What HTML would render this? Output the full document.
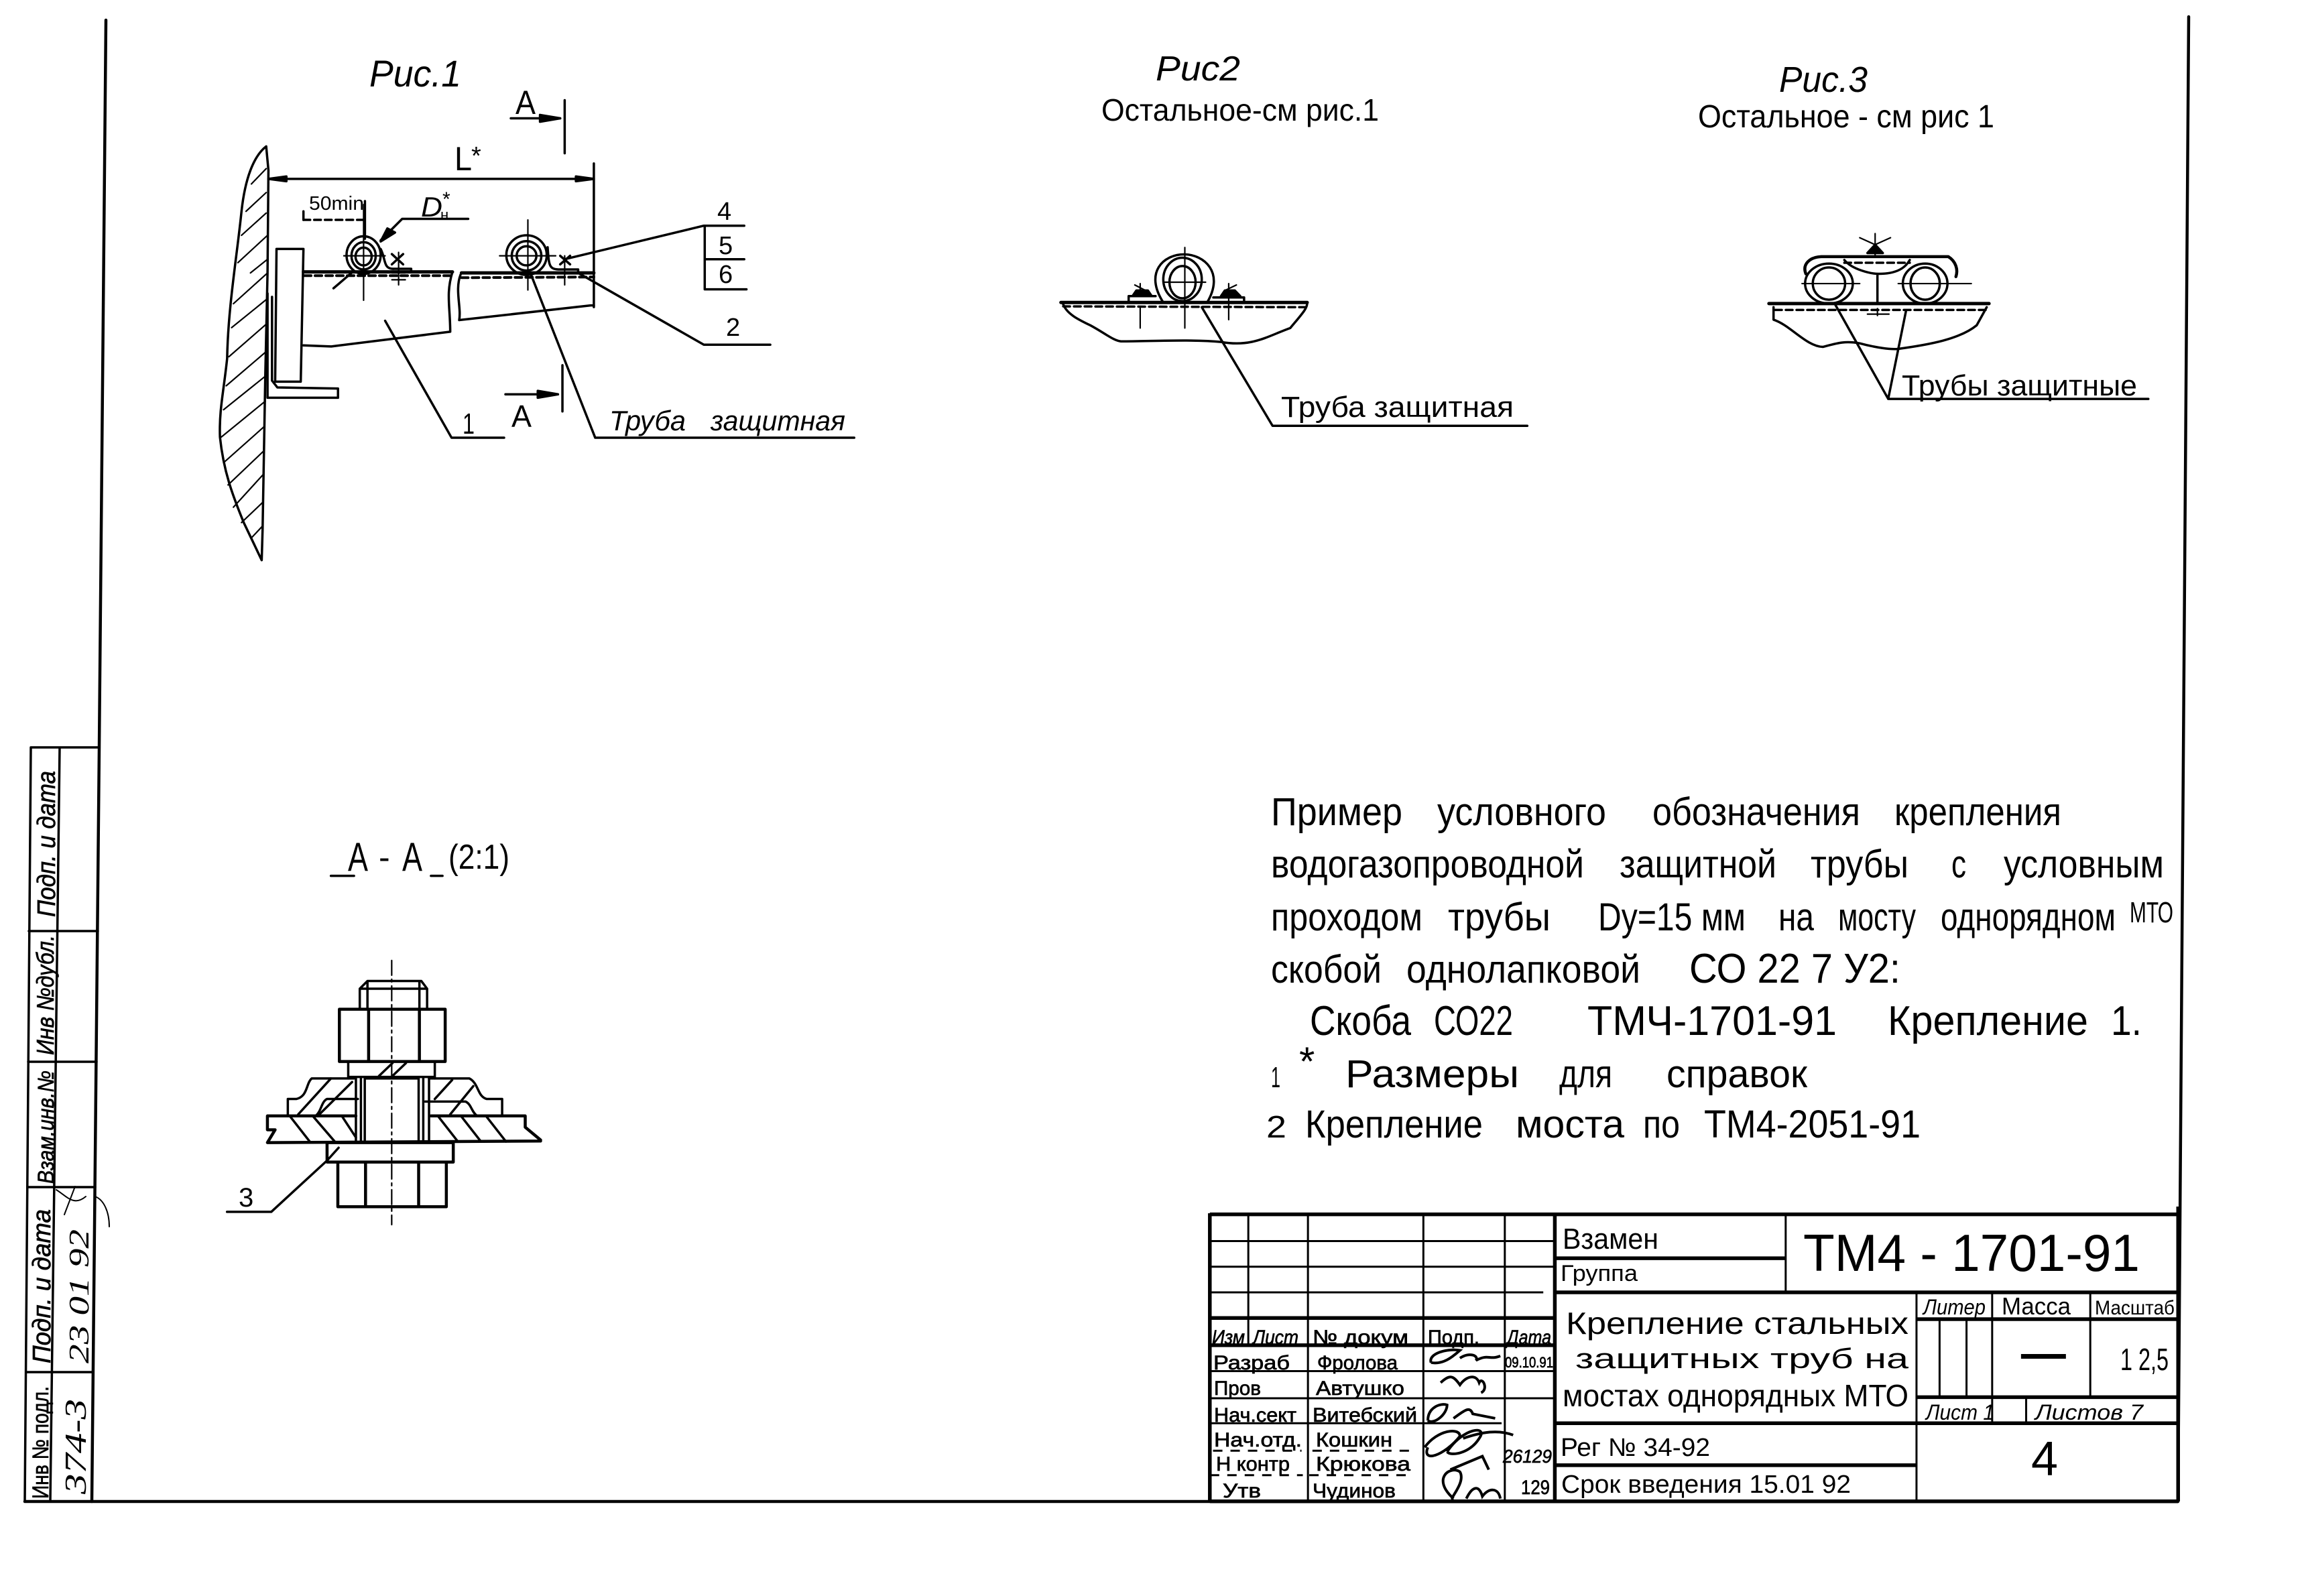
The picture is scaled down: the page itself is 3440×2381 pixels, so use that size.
<!DOCTYPE html>
<html lang="ru"><head><meta charset="utf-8"><title>ТМ4-1701-91</title>
<style>
html,body{margin:0;padding:0;background:#fff}
svg{display:block}
svg *{vector-effect:non-scaling-stroke}
.l *,.l{fill:none;stroke:#000;stroke-width:3.5;stroke-linecap:round;stroke-linejoin:round}
.t *{fill:none;stroke:#000;stroke-width:5.5}
.m *{fill:none;stroke:#000;stroke-width:3}
.n *{fill:none;stroke:#000;stroke-width:2.2}
.d{stroke-dasharray:10 6}
text{font-family:"Liberation Sans","DejaVu Sans",sans-serif;fill:#000;stroke:none}
.s{font-family:"Liberation Serif","DejaVu Serif",serif;font-style:italic}
.i{font-style:italic}
.f{fill:#000!important}
.b text{stroke:#000;stroke-width:.7}
</style></head><body>
<svg xmlns="http://www.w3.org/2000/svg" width="3440" height="2381" viewBox="0 0 3440 2381">
<rect width="3440" height="2381" fill="#fff"/>

<!-- frame -->
<g class="l" style="stroke-width:4">
<path d="M158,30L148,1115L137,2240" style="stroke-width:4.5"/>
<path d="M3265,25L3249,2238" style="stroke-width:4.5"/>
<path d="M37,2240L3249,2240" style="stroke-width:4.5"/>
<path d="M46,1115L37,2240M89,1115L75,2240M46,1115L148,1115M43,1389L146,1389M42,1584L144,1584M41,1771L142,1771M39,2047L139,2047"/>
<path d="M142,1785C155,1790 163,1808 163,1830M84,1775C100,1785 110,1800 128,1785M112,1770L96,1812" style="stroke-width:2"/>
</g>
<g class="b">
<text transform="translate(82,1368) rotate(-90)" font-size="38" textLength="218" lengthAdjust="spacingAndGlyphs" class="i">Подп. и дата</text>
<text transform="translate(80,1574) rotate(-90)" font-size="36" textLength="179" lengthAdjust="spacingAndGlyphs" class="i">Инв №дубл.</text>
<text transform="translate(80,1766) rotate(-90)" font-size="34" textLength="169" lengthAdjust="spacingAndGlyphs" class="i">Взам.инв.№</text>
<text transform="translate(75,2034) rotate(-90)" font-size="38" textLength="230" lengthAdjust="spacingAndGlyphs" class="i">Подп. и дата</text>
<text transform="translate(72,2236) rotate(-90)" font-size="34" textLength="168" lengthAdjust="spacingAndGlyphs">Инв № подл.</text>
</g>
<text transform="translate(132,2034) rotate(-90)" font-size="42" textLength="200" lengthAdjust="spacingAndGlyphs" class="s">23 01 92</text>
<text transform="translate(128,2229) rotate(-90)" font-size="46" textLength="142" lengthAdjust="spacingAndGlyphs" class="s">374-3</text>

<!-- Figure 1 -->
<g class="l" transform="matrix(.6696,0,0,.5102,300,50)">
<path d="M145,330C125,350 100,400 90,520C80,650 60,800 58,950C50,1050 40,1100 42,1180C50,1280 70,1350 95,1430L135,1540L137,1450L143,1000L148,700L150,400Z"/>
<g class="n"><path d="M145,395L112,440M145,465L100,520M145,525L90,590M148,590L82,670M148,660L110,700M148,700L72,790M148,775L68,860M145,850L62,945M145,930L56,1030M145,1000L50,1100M143,1075L45,1180M140,1150L50,1255M140,1220L60,1320M138,1290L72,1385M138,1370L90,1430M137,1440L112,1475"/></g>
<path d="M168,630L228,630L222,1018L165,1018Z"/>
<path d="M148,760L148,1065L305,1065L305,1038L170,1035L158,1015L158,770"/>
<path d="M150,425L875,425M875,380L875,800M810,195L810,350M690,248L800,248M805,970L805,1105M678,1055L795,1055"/>
<path class="f" d="M150,425L190,418L190,432ZM875,425L835,418L835,432ZM800,248L755,238L755,258ZM795,1055L750,1045L750,1065Z"/>
<path d="M228,697L560,697M580,700L875,700" style="stroke-width:5"/>
<path class="d" d="M230,708L560,708M580,714L875,712" style="stroke-width:4"/>
<path d="M228,912L290,915L555,872C555,800 545,760 560,697" />
<path d="M578,705C565,750 580,800 575,838L868,795L875,795"/>
<ellipse cx="362" cy="648" rx="38" ry="55"/><ellipse cx="362" cy="650" rx="27" ry="40"/><ellipse cx="362" cy="652" rx="18" ry="26"/>
<path d="M400,630C412,660 405,690 430,688L468,688L468,697"/>
<ellipse cx="725" cy="648" rx="45" ry="58"/><ellipse cx="725" cy="650" rx="33" ry="43"/><ellipse cx="725" cy="650" rx="22" ry="28"/>
<path d="M772,625C775,680 775,690 800,690L840,690L840,700"/>
<g class="n"><path d="M362,500L362,780M318,650L410,650M728,545L728,750M665,650L790,650M440,640L440,735M810,650L810,735M425,700L455,700M795,700L825,700M425,720L455,720"/></g>
<path d="M228,520L228,545M365,490L365,600"/><path class="d" d="M228,545L362,545"/>
<path d="M595,542L448,542L400,605"/>
<path class="f" d="M400,608L415,570L432,582Z"/>
<path d="M425,645L450,675M450,645L425,675M800,650L822,675M822,650L800,675M335,700L295,745"/>
<path d="M410,840L558,1182L675,1182M735,705L878,1182L1455,1182M810,660L1120,562L1210,562M1122,562L1122,748M1122,660L1210,660M1122,748L1215,748M840,700L1120,910L1268,910"/>
</g>
<text x="551" y="129" font-size="56" textLength="137" lengthAdjust="spacingAndGlyphs" class="i">Рис.1</text>
<text x="769" y="170" font-size="50" textLength="30" lengthAdjust="spacingAndGlyphs">А</text>
<text x="678" y="254" font-size="50" textLength="26" lengthAdjust="spacingAndGlyphs">L</text>
<text x="703" y="245" font-size="38">*</text>
<text x="461" y="313" font-size="29" textLength="82" lengthAdjust="spacingAndGlyphs">50min</text>
<text x="628" y="323" font-size="42" textLength="32" lengthAdjust="spacingAndGlyphs" class="i">D</text>
<text x="657" y="328" font-size="22">н</text>
<text x="660" y="307" font-size="30">*</text>
<text x="1070" y="328" font-size="38">4</text>
<text x="1072" y="379" font-size="38">5</text>
<text x="1072" y="422" font-size="38">6</text>
<text x="1083" y="501" font-size="38">2</text>
<text x="690" y="647" font-size="44" textLength="18" lengthAdjust="spacingAndGlyphs">1</text>
<text x="763" y="637" font-size="46" textLength="30" lengthAdjust="spacingAndGlyphs">А</text>
<text x="909" y="642" font-size="42" textLength="114" lengthAdjust="spacingAndGlyphs" class="i">Труба</text>
<text x="1060" y="642" font-size="42" textLength="201" lengthAdjust="spacingAndGlyphs" class="i">защитная</text>

<!-- Figures 2 and 3 -->
<g class="l" transform="matrix(1.148,0,0,.4145,1500,50)">
<path d="M72,968L392,968" style="stroke-width:5"/>
<path class="d" d="M75,982L390,985"/>
<path d="M75,975C80,1010 95,1030 110,1050C130,1080 140,1105 150,1108C190,1108 240,1100 280,1110C320,1130 340,1090 370,1060C385,1010 392,990 392,970"/>
<path d="M205,968C180,860 205,795 232,795C258,795 285,860 262,968"/>
<ellipse cx="230" cy="885" rx="25" ry="78"/><ellipse cx="230" cy="895" rx="17" ry="58"/>
<path d="M160,965L160,945L195,945M310,968L310,950L270,950"/>
<path class="f" d="M165,945L190,945L185,925L170,925ZM280,945L305,945L298,925L285,925Z"/>
<g class="n"><path d="M233,770L233,1060M205,895L260,895M175,985L175,1060M290,930L290,1030M175,900L175,925M290,900L290,925M168,905L182,925M300,905L285,925"/></g>
<path d="M255,985L347,1412L678,1412"/>

<path d="M992,972L1278,972" style="stroke-width:5"/>
<path class="d" d="M1000,995L1275,995"/>
<path d="M998,985L998,1030C1020,1050 1040,1125 1062,1128C1080,1115 1090,1105 1110,1115C1130,1130 1150,1138 1160,1135C1200,1120 1240,1100 1262,1050L1275,985"/>
<ellipse cx="1070" cy="900" rx="31" ry="72"/><ellipse cx="1070" cy="900" rx="21" ry="58"/>
<ellipse cx="1195" cy="900" rx="29" ry="72"/><ellipse cx="1195" cy="900" rx="19" ry="58"/>
<path d="M1040,865C1035,830 1045,805 1060,803L1225,803C1235,820 1238,850 1235,875" style="stroke-width:4.5"/>
<path class="d" d="M1090,825L1175,825"/>
<path d="M1090,815C1100,850 1125,865 1135,865C1160,865 1170,840 1175,815M1133,865L1133,972"/>
<g class="n"><path d="M1035,900L1110,900M1160,900L1255,900M1130,720L1130,800M1110,735L1130,760L1150,735M1133,990L1133,1015M1120,1010L1148,1010"/></g>
<path class="f" d="M1120,790L1140,790L1130,760Z"/>
<path d="M1078,975L1147,1315L1485,1315M1170,1000L1147,1315"/>
</g>
<text x="1724" y="120" font-size="52" textLength="126" lengthAdjust="spacingAndGlyphs" class="i">Рис2</text>
<text x="1643" y="180" font-size="46" textLength="414" lengthAdjust="spacingAndGlyphs">Остальное-см рис.1</text>
<text x="2654" y="137" font-size="54" textLength="132" lengthAdjust="spacingAndGlyphs" class="i">Рис.3</text>
<text x="2533" y="190" font-size="48" textLength="442" lengthAdjust="spacingAndGlyphs">Остальное - см рис 1</text>
<text x="1911" y="622" font-size="44" textLength="347" lengthAdjust="spacingAndGlyphs">Труба защитная</text>
<text x="2837" y="590" font-size="44" textLength="351" lengthAdjust="spacingAndGlyphs">Трубы защитные</text>

<!-- Section A-A -->
<g class="l" transform="matrix(.574,0,0,.7653,0,1100)">
<path class="n" d="M1018,435L1018,950" style="stroke-width:2.2;stroke-dasharray:22 6 4 6"/>
<path d="M935,530L935,490L955,475L1095,475L1110,490L1110,530ZM955,475L955,530M1090,475L1090,530M935,490L1110,490"/>
<path d="M882,530H1157V632H882ZM958,530V632M1090,530V632" style="stroke-width:4.5"/>
<path d="M905,632L905,665M1130,632L1130,665M905,662L1130,662M985,660L1020,635M1020,660L1055,635"/>
<path d="M948,665H1088V790H948ZM925,665V790M938,665V790M1100,665V790M1115,665V790"/>
<path d="M920,665L810,665C795,675 800,700 770,705L748,705L748,738M930,705L850,705C835,710 835,730 820,738M1115,665L1220,665C1245,675 1240,700 1265,705L1305,705L1305,738M1105,710L1210,710C1225,715 1225,730 1240,738"/>
<path d="M695,738L925,738M1120,738L1365,738M695,790L1405,787M695,738L695,765L715,765L695,790M1365,738L1365,760L1405,785" style="stroke-width:4.5"/>
<path d="M755,740L805,788M815,740L870,788M890,740L925,780M1140,740L1190,788M1200,740L1250,788M1265,740L1315,788M775,735L860,665M830,735L915,672M1130,705L1175,668M1170,735L1230,680"/>
<path d="M850,790H1178V828H850ZM878,828H1160V915H878ZM950,828V915M1088,828V915" style="stroke-width:4.5"/>
<path d="M880,800L850,825L705,925L590,925M860,270L920,270M1120,270L1150,270"/>
</g>
<text x="519" y="1299" font-size="60" textLength="30" lengthAdjust="spacingAndGlyphs">А</text>
<text x="565" y="1296" font-size="50">-</text>
<text x="600" y="1299" font-size="60" textLength="30" lengthAdjust="spacingAndGlyphs">А</text>
<text x="669" y="1296" font-size="52" textLength="91" lengthAdjust="spacingAndGlyphs">(2:1)</text>
<text x="356" y="1800" font-size="40">3</text>

<!-- Notes -->
<g font-size="58">
<text x="1896" y="1231" textLength="196" lengthAdjust="spacingAndGlyphs">Пример</text>
<text x="2144" y="1231" textLength="252" lengthAdjust="spacingAndGlyphs">условного</text>
<text x="2465" y="1231" textLength="310" lengthAdjust="spacingAndGlyphs">обозначения</text>
<text x="2826" y="1231" textLength="249" lengthAdjust="spacingAndGlyphs">крепления</text>
<text x="1896" y="1309" textLength="467" lengthAdjust="spacingAndGlyphs">водогазопроводной</text>
<text x="2416" y="1309" textLength="234" lengthAdjust="spacingAndGlyphs">защитной</text>
<text x="2701" y="1309" textLength="146" lengthAdjust="spacingAndGlyphs">трубы</text>
<text x="2911" y="1309" textLength="22" lengthAdjust="spacingAndGlyphs">с</text>
<text x="2989" y="1309" textLength="239" lengthAdjust="spacingAndGlyphs">условным</text>
<text x="1896" y="1388" textLength="226" lengthAdjust="spacingAndGlyphs">проходом</text>
<text x="2160" y="1388" textLength="153" lengthAdjust="spacingAndGlyphs">трубы</text>
<text x="2384" y="1388" textLength="220" lengthAdjust="spacingAndGlyphs">Dу=15 мм</text>
<text x="2653" y="1388" textLength="53" lengthAdjust="spacingAndGlyphs">на</text>
<text x="2742" y="1388" textLength="116" lengthAdjust="spacingAndGlyphs">мосту</text>
<text x="2895" y="1388" textLength="261" lengthAdjust="spacingAndGlyphs">однорядном</text>
<text x="3177" y="1376" font-size="44" textLength="65" lengthAdjust="spacingAndGlyphs">МТО</text>
<text x="1896" y="1466" textLength="165" lengthAdjust="spacingAndGlyphs">скобой</text>
<text x="2098" y="1466" textLength="349" lengthAdjust="spacingAndGlyphs">однолапковой</text>
<text x="2520" y="1466" font-size="62" textLength="315" lengthAdjust="spacingAndGlyphs">СО 22 7 У2:</text>
<text x="1954" y="1544" font-size="62" textLength="151" lengthAdjust="spacingAndGlyphs">Скоба</text>
<text x="2139" y="1544" font-size="62" textLength="118" lengthAdjust="spacingAndGlyphs">СО22</text>
<text x="2368" y="1544" font-size="62" textLength="372" lengthAdjust="spacingAndGlyphs">ТМЧ-1701-91</text>
<text x="2816" y="1544" font-size="62" textLength="299" lengthAdjust="spacingAndGlyphs">Крепление</text>
<text x="3149" y="1544" font-size="62" textLength="46" lengthAdjust="spacingAndGlyphs">1.</text>
<text x="1896" y="1622" font-size="44" textLength="14" lengthAdjust="spacingAndGlyphs">1</text>
<text x="1938" y="1604" font-size="60">*</text>
<text x="2007" y="1622" textLength="259" lengthAdjust="spacingAndGlyphs">Размеры</text>
<text x="2326" y="1622" textLength="79" lengthAdjust="spacingAndGlyphs">для</text>
<text x="2486" y="1622" textLength="210" lengthAdjust="spacingAndGlyphs">справок</text>
<text x="1889" y="1697" font-size="46" textLength="30" lengthAdjust="spacingAndGlyphs">2</text>
<text x="1947" y="1697" textLength="265" lengthAdjust="spacingAndGlyphs">Крепление</text>
<text x="2261" y="1697" textLength="162" lengthAdjust="spacingAndGlyphs">моста</text>
<text x="2451" y="1697" textLength="55" lengthAdjust="spacingAndGlyphs">по</text>
<text x="2542" y="1697" textLength="323" lengthAdjust="spacingAndGlyphs">ТМ4-2051-91</text>
</g>

<!-- Title block lines -->
<g transform="matrix(.9566,0,0,.3326,1800,1800)">
<g class="t"><path d="M5,35H1515M5,30V1322M5,1322H1515M1515,0V1322M5,500H543M5,622H543M543,35V1322M543,385H1515M543,972H1515M1107,505H1515M1107,855H1515M543,232H903M543,1160H1107"/></g>
<g class="m"><path d="M65,35V620M158,35V1315M338,35V1315M465,35V1315M5,155H543M5,270H543M5,385H525M5,738H543M5,860H543M5,972H460M903,35V380M1107,385V1322M1225,385V855M1378,385V855M1143,505V855M1185,505V855M1225,855V972M1278,855V972"/>
<path d="M5,1205H150M160,1205H320M10,1095H148M165,1095H325" stroke-dasharray="14 12"/>
<path d="M1270,672H1340" style="stroke-width:7"/>
<!-- signatures -->
<path d="M350,700C345,660 375,635 395,645C385,670 370,710 350,700M395,680C410,650 425,670 420,690C440,660 440,690 458,670M365,790C380,750 385,760 395,800C405,760 420,750 425,790C430,760 440,820 428,835M345,960C345,900 365,880 375,890C375,930 355,980 345,960M385,950C400,920 410,890 415,930L450,950M340,1080C360,1000 395,990 395,1030C370,1120 335,1150 345,1080M375,1100C400,990 440,980 425,1040C410,1110 380,1120 375,1100M400,1040C430,1010 455,1000 478,1025M380,1180L430,1120L440,1180M385,1310C350,1220 380,1160 395,1190C405,1240 375,1320 385,1310M405,1310C415,1250 425,1250 430,1300C440,1260 455,1260 458,1310" style="stroke-width:4"/></g>
</g>

<!-- Title block text -->
<g>
<text x="2331" y="1863" font-size="44" textLength="143" lengthAdjust="spacingAndGlyphs">Взамен</text>
<text x="2328" y="1911" font-size="34" textLength="115" lengthAdjust="spacingAndGlyphs">Группа</text>
<text x="2690" y="1896" font-size="78" textLength="502" lengthAdjust="spacingAndGlyphs">ТМ4 - 1701-91</text>
<text x="2336" y="1990" font-size="46" textLength="511" lengthAdjust="spacingAndGlyphs">Крепление стальных</text>
<text x="2350" y="2041" font-size="42" textLength="497" lengthAdjust="spacingAndGlyphs">защитных  труб на</text>
<text x="2331" y="2098" font-size="46" textLength="516" lengthAdjust="spacingAndGlyphs">мостах однорядных МТО</text>
<text x="2869" y="1961" font-size="32" textLength="93" lengthAdjust="spacingAndGlyphs" class="i">Литер</text>
<text x="2986" y="1961" font-size="36" textLength="103" lengthAdjust="spacingAndGlyphs">Масса</text>
<text x="3125" y="1961" font-size="30" textLength="119" lengthAdjust="spacingAndGlyphs">Масштаб</text>
<text x="3163" y="2044" font-size="46" textLength="72" lengthAdjust="spacingAndGlyphs">1 2,5</text>
<text x="2873" y="2118" font-size="32" textLength="102" lengthAdjust="spacingAndGlyphs" class="i">Лист 1</text>
<text x="3036" y="2118" font-size="32" textLength="161" lengthAdjust="spacingAndGlyphs" class="i">Листов  7</text>
<text x="3030" y="2201" font-size="72" textLength="40" lengthAdjust="spacingAndGlyphs">4</text>
<text x="2328" y="2172" font-size="38" textLength="223" lengthAdjust="spacingAndGlyphs">Рег № 34-92</text>
<text x="2329" y="2227" font-size="38" textLength="432" lengthAdjust="spacingAndGlyphs">Срок введения 15.01 92</text>
<g font-size="30" class="b">
<text x="1808" y="2005" textLength="49" lengthAdjust="spacingAndGlyphs" class="i">Изм</text>
<text x="1869" y="2005" textLength="68" lengthAdjust="spacingAndGlyphs" class="i">Лист</text>
<text x="1958" y="2005" textLength="143" lengthAdjust="spacingAndGlyphs">№ докум</text>
<text x="2130" y="2005" textLength="77" lengthAdjust="spacingAndGlyphs">Подп.</text>
<text x="2248" y="2005" textLength="66" lengthAdjust="spacingAndGlyphs" class="i">Дата</text>
<text x="1810" y="2043" textLength="114" lengthAdjust="spacingAndGlyphs">Разраб</text>
<text x="1965" y="2043" textLength="120" lengthAdjust="spacingAndGlyphs">Фролова</text>
<text x="2245" y="2040" font-size="22" textLength="72" lengthAdjust="spacingAndGlyphs">09.10.91</text>
<text x="1811" y="2081" textLength="70" lengthAdjust="spacingAndGlyphs">Пров</text>
<text x="1963" y="2081" textLength="132" lengthAdjust="spacingAndGlyphs">Автушко</text>
<text x="1811" y="2121" textLength="123" lengthAdjust="spacingAndGlyphs">Нач.сект</text>
<text x="1958" y="2121" textLength="156" lengthAdjust="spacingAndGlyphs">Витебский</text>
<text x="1811" y="2158" textLength="131" lengthAdjust="spacingAndGlyphs">Нач.отд.</text>
<text x="1963" y="2158" textLength="114" lengthAdjust="spacingAndGlyphs">Кошкин</text>
<text x="1814" y="2194" textLength="110" lengthAdjust="spacingAndGlyphs">Н контр</text>
<text x="1963" y="2194" textLength="141" lengthAdjust="spacingAndGlyphs">Крюкова</text>
<text x="1824" y="2234" textLength="57" lengthAdjust="spacingAndGlyphs">Утв</text>
<text x="1958" y="2234" textLength="124" lengthAdjust="spacingAndGlyphs">Чудинов</text>
<text x="2242" y="2182" font-size="28" textLength="73" lengthAdjust="spacingAndGlyphs" class="i">26129</text>
<text x="2269" y="2229" font-size="30" textLength="43" lengthAdjust="spacingAndGlyphs">129</text>
</g>
</g>
</svg>
</body></html>
